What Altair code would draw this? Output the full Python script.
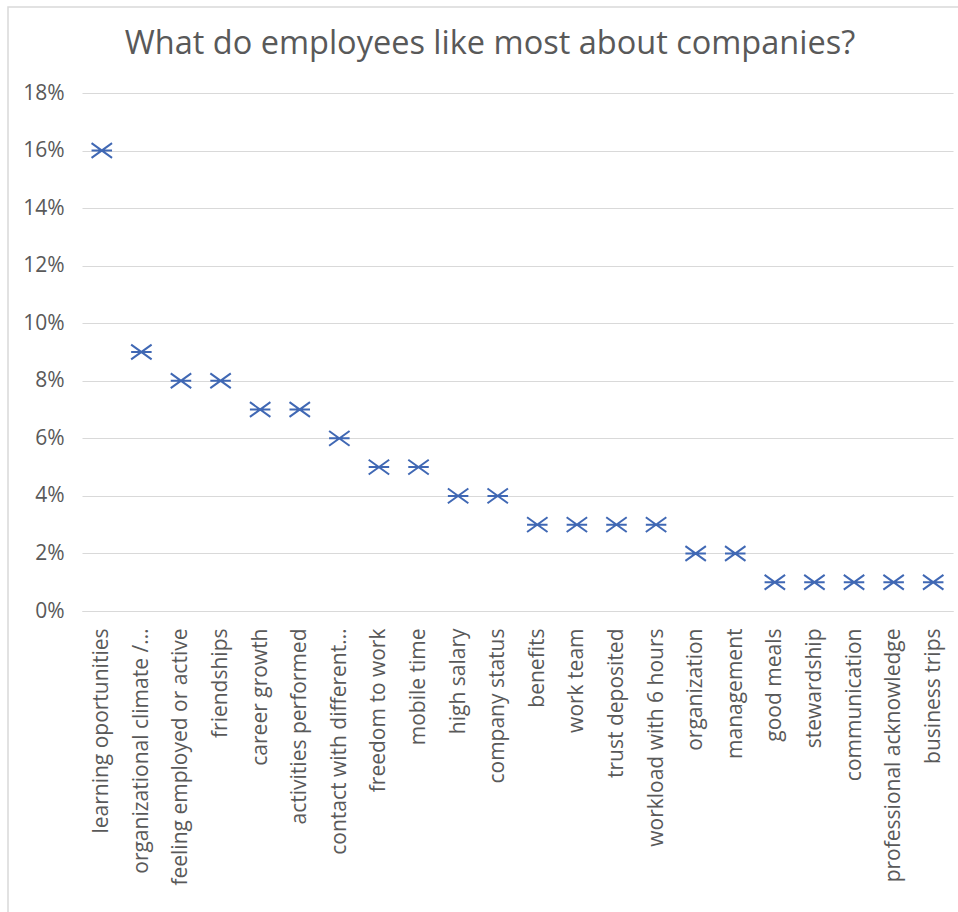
import altair as alt
import pandas as pd

categories = [
    "learning oportunities", "organizational climate /…", "feeling employed or active",
    "friendships", "career growth", "activities performed", "contact with different…",
    "freedom to work", "mobile time", "high salary", "company status", "benefits",
    "work team", "trust deposited", "workload with 6 hours", "organization",
    "management", "good meals", "stewardship", "communication",
    "professional acknowledge", "business trips",
]
shares = [0.16, 0.09, 0.08, 0.08, 0.07, 0.07, 0.06, 0.05, 0.05, 0.04, 0.04,
          0.03, 0.03, 0.03, 0.03, 0.02, 0.02, 0.01, 0.01, 0.01, 0.01, 0.01]
y_ticks = [0, 0.02, 0.04, 0.06, 0.08, 0.10, 0.12, 0.14, 0.16, 0.18]
title_text = "What do employees like most about companies?"

df = pd.DataFrame({"category": categories, "share": shares})

W, H = 871, 518
PAD_L, PAD_T = 82, 93
GRAY = "#595959"
GRID = "#d9d9d9"
FONT = "Open Sans"

star = "M-1,-0.72L1,0.72M-1,0.72L1,-0.72M-1,0L1,0"

points = alt.Chart(df).mark_point(
    shape=star, size=420, filled=False, strokeWidth=2, color="#4068b4", opacity=1
).encode(
    x=alt.X("category:N", sort=categories, title=None,
            scale=alt.Scale(paddingInner=0, paddingOuter=0.5),
            axis=alt.Axis(labelAngle=-90, labelAlign="right", labelBaseline="middle",
                          labelPadding=17, ticks=False, tickSize=0, domain=True,
                          domainColor=GRID, domainWidth=1, grid=False, labelLimit=0,
                          labelFont=FONT, labelFontSize=21, labelColor=GRAY)),
    y=alt.Y("share:Q", title=None,
            scale=alt.Scale(domain=[0, 0.18], nice=False),
            axis=alt.Axis(values=y_ticks, format=".0%", domain=False, ticks=False,
                          tickSize=0, labelPadding=18, grid=True, gridColor=GRID,
                          gridWidth=1, labelFont=FONT, labelFontSize=21,
                          labelColor=GRAY)),
)

frame = alt.Chart(pd.DataFrame({"a": [0]})).mark_rect(
    fill=None, stroke=GRID, strokeWidth=1.5, clip=False
).encode(
    x=alt.value(8 - PAD_L), x2=alt.value(960 - PAD_L),
    y=alt.value(7 - PAD_T), y2=alt.value(914 - PAD_T),
)

title = alt.Chart(pd.DataFrame({"t": [title_text]})).mark_text(
    font=FONT, fontSize=32.5, color=GRAY, align="center", baseline="alphabetic"
).encode(
    text="t:N", x=alt.value(490 - PAD_L), y=alt.value(54 - PAD_T)
)

chart = alt.layer(frame, points, title).properties(
    width=W, height=H,
    autosize=alt.AutoSizeParams(type="none"),
    padding={"left": PAD_L, "top": PAD_T, "right": 958 - PAD_L - W, "bottom": 912 - PAD_T - H},
    background="white",
).configure_view(stroke=None)

chart.save("out.html", embed_options={"renderer": "svg", "actions": False})
